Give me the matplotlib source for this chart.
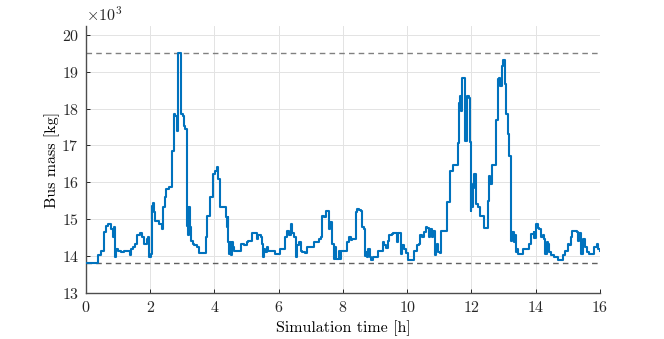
import matplotlib
matplotlib.use("Agg")
import matplotlib.pyplot as plt

plt.rcParams['font.family'] = ['cmr10', 'DejaVu Serif']
plt.rcParams['mathtext.fontset'] = 'cm'
plt.rcParams['axes.formatter.use_mathtext'] = True

# Simulation time [h] (step breakpoints)
time_h = [0.00, 0.36, 0.46, 0.57, 0.63, 0.70, 0.77, 0.84, 0.86, 0.91, 0.94, 1.01, 1.09, 1.17,
          1.38, 1.40, 1.46, 1.53, 1.60, 1.67, 1.74, 1.79, 1.84, 1.89, 1.93, 1.97, 2.02, 2.06,
          2.10, 2.12, 2.14, 2.28, 2.38, 2.41, 2.46, 2.49, 2.59, 2.69, 2.73, 2.77, 2.83, 2.85,
          2.87, 2.97, 3.02, 3.04, 3.08, 3.14, 3.16, 3.18, 3.21, 3.24, 3.27, 3.32, 3.37, 3.47,
          3.53, 3.73, 3.76, 3.87, 3.96, 4.03, 4.07, 4.10, 4.12, 4.17, 4.35, 4.38, 4.41, 4.43,
          4.45, 4.48, 4.51, 4.55, 4.58, 4.62, 4.84, 4.93, 5.00, 5.05, 5.18, 5.31, 5.36, 5.45,
          5.47, 5.50, 5.54, 5.57, 5.62, 5.67, 5.88, 6.03, 6.19, 6.27, 6.32, 6.37, 6.42, 6.47,
          6.53, 6.58, 6.63, 6.68, 6.73, 6.82, 6.89, 7.10, 7.25, 7.31, 7.34, 7.41, 7.46, 7.55,
          7.59, 7.67, 7.72, 7.75, 7.79, 7.88, 7.90, 7.95, 8.13, 8.19, 8.26, 8.29, 8.42, 8.45,
          8.50, 8.57, 8.59, 8.65, 8.67, 8.71, 8.75, 8.79, 8.83, 8.88, 8.94, 9.09, 9.23, 9.28,
          9.33, 9.40, 9.44, 9.51, 9.56, 9.67, 9.72, 9.80, 9.85, 9.89, 9.97, 10.02, 10.20, 10.31,
          10.36, 10.41, 10.46, 10.51, 10.57, 10.62, 10.67, 10.72, 10.77, 10.80, 10.85, 10.90,
          10.93, 10.97, 11.01, 11.05, 11.24, 11.32, 11.41, 11.57, 11.60, 11.63, 11.68, 11.71,
          11.81, 11.86, 11.92, 11.94, 11.97, 11.99, 12.01, 12.04, 12.07, 12.14, 12.20, 12.25,
          12.38, 12.51, 12.55, 12.59, 12.63, 12.77, 12.82, 12.87, 12.90, 12.94, 12.97, 13.05,
          13.08, 13.13, 13.18, 13.24, 13.27, 13.31, 13.34, 13.37, 13.42, 13.46, 13.60, 13.78,
          13.86, 13.93, 13.96, 14.00, 14.07, 14.11, 14.17, 14.22, 14.26, 14.30, 14.34, 14.38,
          14.42, 14.48, 14.58, 14.69, 14.86, 14.91, 15.00, 15.04, 15.10, 15.14, 15.21, 15.28,
          15.33, 15.36, 15.42, 15.46, 15.52, 15.59, 15.67, 15.80, 15.90, 15.95, 16.00]

# Bus mass [x10^3 kg]
bus_mass = [13.80, 14.02, 14.15, 14.65, 14.83, 14.87, 14.74, 14.51, 14.78, 13.97, 14.20, 14.15, 14.11, 14.15,
            14.02, 14.20, 14.26, 14.33, 14.56, 14.62, 14.51, 14.33, 14.33, 14.47, 14.51, 13.97, 14.06, 15.37,
            15.43, 15.19, 14.95, 14.87, 14.74, 15.34, 15.59, 15.82, 15.88, 16.86, 17.85, 17.80, 17.40, 17.80,
            19.50, 17.85, 17.80, 17.53, 17.44, 14.83, 15.32, 14.56, 15.33, 14.78, 14.42, 14.33, 14.29, 14.26,
            14.08, 14.51, 15.10, 15.59, 16.23, 16.32, 16.42, 16.27, 16.09, 15.34, 15.05, 14.80, 15.05, 14.38,
            14.06, 14.38, 14.02, 14.38, 14.24, 14.15, 14.33, 14.29, 14.38, 14.42, 14.62, 14.47, 14.56, 14.53,
            14.33, 13.97, 14.20, 14.11, 14.24, 14.15, 14.05, 14.20, 14.51, 14.68, 14.56, 14.86, 14.62, 14.51,
            13.97, 14.29, 14.38, 14.15, 14.11, 14.08, 14.26, 14.38, 14.47, 14.51, 15.10, 15.05, 15.23, 14.74,
            14.92, 14.33, 13.93, 14.24, 13.93, 14.15, 13.93, 14.15, 14.38, 14.51, 14.44, 14.47, 15.19, 15.28,
            15.26, 15.23, 14.80, 14.74, 13.99, 14.11, 13.97, 14.20, 13.97, 13.90, 13.97, 14.15, 14.38, 14.31,
            14.23, 14.42, 14.56, 14.60, 14.62, 14.38, 14.62, 14.06, 14.29, 14.20, 14.08, 13.90, 14.14, 14.29,
            14.33, 14.56, 14.51, 14.65, 14.78, 14.76, 14.51, 14.74, 14.51, 14.69, 14.02, 14.29,
            14.33, 14.11, 14.08, 14.69, 15.46, 16.32, 16.48, 17.08, 18.16, 18.34, 17.94, 18.84,
            17.13, 18.34, 18.30, 17.10, 15.23, 15.95, 15.32, 15.86, 16.23, 15.41, 15.32, 15.10,
            14.77, 15.50, 16.18, 15.95, 16.48, 17.68, 18.79, 18.84, 18.61, 19.15, 19.33, 18.66,
            17.85, 17.32, 16.72, 14.42, 14.65, 14.38, 14.56, 14.11, 14.20, 14.05, 14.20, 14.33,
            14.60, 14.65, 14.50, 14.87, 14.77, 14.74, 14.53, 14.56, 14.47, 14.06, 14.38, 14.33,
            14.11, 14.02, 13.97, 13.90, 14.02, 14.15, 14.33, 14.29, 14.53, 14.68, 14.69, 14.65,
            14.42, 14.62, 14.06, 14.47, 14.24, 14.11, 14.05, 14.24, 14.33, 14.20, 14.14]

upper_limit = 19.5
lower_limit = 13.8

x_ticks = [0, 2, 4, 6, 8, 10, 12, 14, 16]
y_ticks = [13, 14, 15, 16, 17, 18, 19, 20]

fig = plt.figure(figsize=(6.64, 3.39), dpi=100)
ax = fig.add_axes([86/664, 1 - 293/339, (600-86)/664, (293-26)/339])

ax.step(time_h, bus_mass, where='post', color='#0072BD', lw=1.5, zorder=3)
ax.axhline(upper_limit, color='#808080', ls=(0, (4, 3)), lw=1.0, zorder=2)
ax.axhline(lower_limit, color='#606060', ls=(0, (4, 3)), lw=1.0, zorder=2)

ax.set_xlim(0, 16)
ax.set_ylim(13, 20.24)
ax.set_xticks(x_ticks)
ax.set_yticks(y_ticks)
ax.grid(True, color='#e3e3e3', lw=0.7, zorder=0)
ax.set_axisbelow(True)
for s in ['top', 'right']:
    ax.spines[s].set_visible(False)
for s in ['left', 'bottom']:
    ax.spines[s].set_color('#4d4d4d')
    ax.spines[s].set_linewidth(1.0)
ax.tick_params(direction='in', length=3, width=0.7, colors='#262626', labelsize=11.5, pad=5)
ax.set_xlabel('Simulation time [h]', fontsize=11.5, labelpad=4)
ax.set_ylabel('Bus mass [kg]', fontsize=11.5, labelpad=1)
ax.text(0.0, 1.008, r'$\times 10^{3}$', transform=ax.transAxes, fontsize=11.5,
        ha='left', va='bottom', color='#262626')

fig.savefig('out.png', dpi=100)
